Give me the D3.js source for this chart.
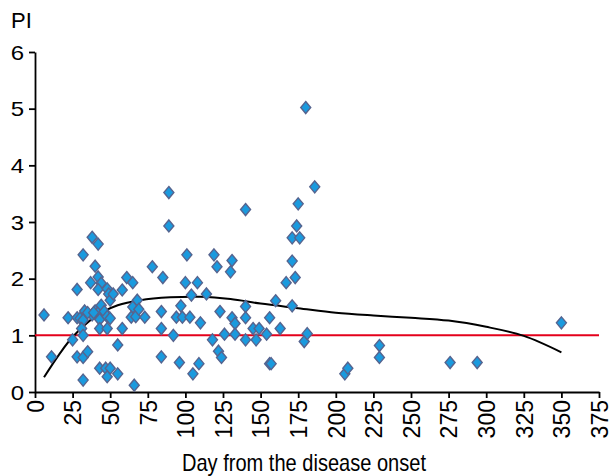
<!DOCTYPE html>
<html>
<head>
<meta charset="utf-8">
<script src="https://cdn.jsdelivr.net/npm/d3@7"></script>
<style>
  body { margin: 0; background: #fff; }
  text { font-family: "Liberation Sans", Arial, sans-serif; fill: #000; }
</style>
</head>
<body>
<div id="chart"></div>
<script>
// patient points: day from onset / PI
var days = [6, 11, 22, 28, 25, 28, 30, 33, 32, 31, 32, 28, 32, 35, 32,
            38, 42, 32, 40, 42, 37, 44, 42, 48, 49, 50, 52, 38, 40, 43,
            44, 46, 43, 48, 50, 43, 48, 58, 58, 55, 43, 47, 50, 48, 55,
            61, 65, 68, 65, 64, 67, 69, 73, 66, 78, 85, 84, 84, 84, 89,
            89, 92, 94, 97, 98, 96, 100, 101, 104, 103, 108, 105, 109, 110, 114,
            118, 119, 121, 122, 124, 123, 126, 130, 131, 131, 133, 133, 140, 140, 140,
            140, 145, 147, 149, 154, 156, 156, 157, 160, 163, 167, 171, 171, 171, 173,
            174, 176, 175, 180, 179, 181, 186, 206, 208, 229, 229, 276, 294, 350,
            35, 39];
var pi = [1.36, 0.62, 1.31, 1.81, 0.92, 1.31, 1.30, 1.43, 1.27, 1.12, 1.00, 0.62, 0.61, 0.71, 0.21,
          2.73, 2.61, 2.42, 2.22, 2.03, 1.93, 1.92, 1.81, 1.82, 1.73, 1.62, 1.73, 1.36, 1.43, 1.43,
          1.53, 1.42, 1.28, 1.33, 1.30, 1.12, 1.12, 1.80, 1.12, 0.83, 0.42, 0.42, 0.42, 0.27, 0.32,
          2.02, 1.93, 1.62, 1.50, 1.32, 1.33, 1.46, 1.32, 0.12, 2.21, 2.02, 1.42, 1.12, 0.62, 2.93,
          3.52, 1.00, 1.32, 1.52, 1.32, 0.52, 1.93, 2.42, 1.71, 1.32, 1.93, 0.32, 0.50, 1.22, 1.73,
          0.92, 2.42, 2.21, 0.72, 0.61, 1.42, 1.02, 2.12, 2.32, 1.31, 1.21, 1.02, 1.51, 1.31, 0.92,
          3.22, 1.12, 0.92, 1.12, 1.02, 1.31, 0.50, 0.50, 1.61, 1.12, 1.93, 1.52, 2.31, 2.72, 2.02,
          2.93, 2.72, 3.32, 5.02, 0.89, 1.03, 3.62, 0.32, 0.42, 0.82, 0.61, 0.52, 0.52, 1.22,
          1.40, 1.40];

// fitted trend line
var trendDays = [6, 16, 25, 40, 55, 70, 90, 110, 130, 150, 175, 200, 225, 250, 275, 300, 325, 350];
var trendPI = [0.26, 0.66, 0.97, 1.33, 1.53, 1.62, 1.67, 1.68, 1.64, 1.56, 1.48, 1.40, 1.35, 1.31, 1.26, 1.15, 0.99, 0.70];

var refLine = 1;
var xTicks = d3.range(0, 376, 25);
var yTicks = [0, 1, 2, 3, 4, 5, 6];

var width = 612,
    height = 476;

var x = d3.scaleLinear().domain([0, 375]).range([35, 599]);
var y = d3.scaleLinear().domain([0, 6]).range([392, 52]);

var svg = d3.select("#chart").append("svg")
    .attr("width", width)
    .attr("height", height);

// axes
var yAxis = svg.append("g")
    .attr("transform", "translate(" + x(0) + ",0)")
    .call(d3.axisLeft(y).tickValues(yTicks).tickSize(6).tickSizeOuter(0).tickFormat(d3.format("d")));

var xAxis = svg.append("g")
    .attr("transform", "translate(0," + y(0) + ")")
    .call(d3.axisBottom(x).tickValues(xTicks).tickSize(6).tickSizeOuter(0).tickFormat(d3.format("d")));

svg.selectAll(".domain, .tick line")
    .attr("stroke", "#000")
    .attr("stroke-width", 1.8);

// y labels are a bit wide in the original, stretch them
yAxis.selectAll("text")
    .attr("x", -9)
    .attr("dy", "0.36em")
    .style("font-size", "20px")
    .attr("transform", "scale(1.2,1)");

xAxis.selectAll("text")
    .attr("transform", "rotate(-90)")
    .attr("text-anchor", "end")
    .attr("x", -8)
    .attr("y", 0)
    .attr("dy", "0.36em")
    .style("font-size", "23px");

// reference line at PI = 1
svg.append("line")
    .attr("x1", x(0))
    .attr("x2", x(375))
    .attr("y1", y(refLine))
    .attr("y2", y(refLine))
    .attr("stroke", "#e4001b")
    .attr("stroke-width", 2);

// trend curve
var line = d3.line()
    .x(function(d, i) { return x(d); })
    .y(function(d, i) { return y(trendPI[i]); })
    .curve(d3.curveCatmullRom);

svg.append("path")
    .datum(trendDays)
    .attr("d", line)
    .attr("fill", "none")
    .attr("stroke", "#000")
    .attr("stroke-width", 2);

// diamonds
svg.selectAll(".pt")
    .data(days)
  .enter().append("path")
    .attr("class", "pt")
    .attr("d", "M0,-6L5,0L0,6L-5,0Z")
    .attr("transform", function(d, i) { return "translate(" + x(d) + "," + y(pi[i]) + ")"; })
    .attr("fill", "#1a9ade")
    .attr("stroke", "#56648f")
    .attr("stroke-width", 1.4);

// labels
svg.append("text")
    .attr("x", 11)
    .attr("y", 28)
    .style("font-size", "22px")
    .text("PI");

svg.append("text")
    .attr("x", 182)
    .attr("y", 471)
    .attr("textLength", 244)
    .attr("lengthAdjust", "spacingAndGlyphs")
    .style("font-size", "24px")
    .text("Day from the disease onset");
</script>
</body>
</html>
